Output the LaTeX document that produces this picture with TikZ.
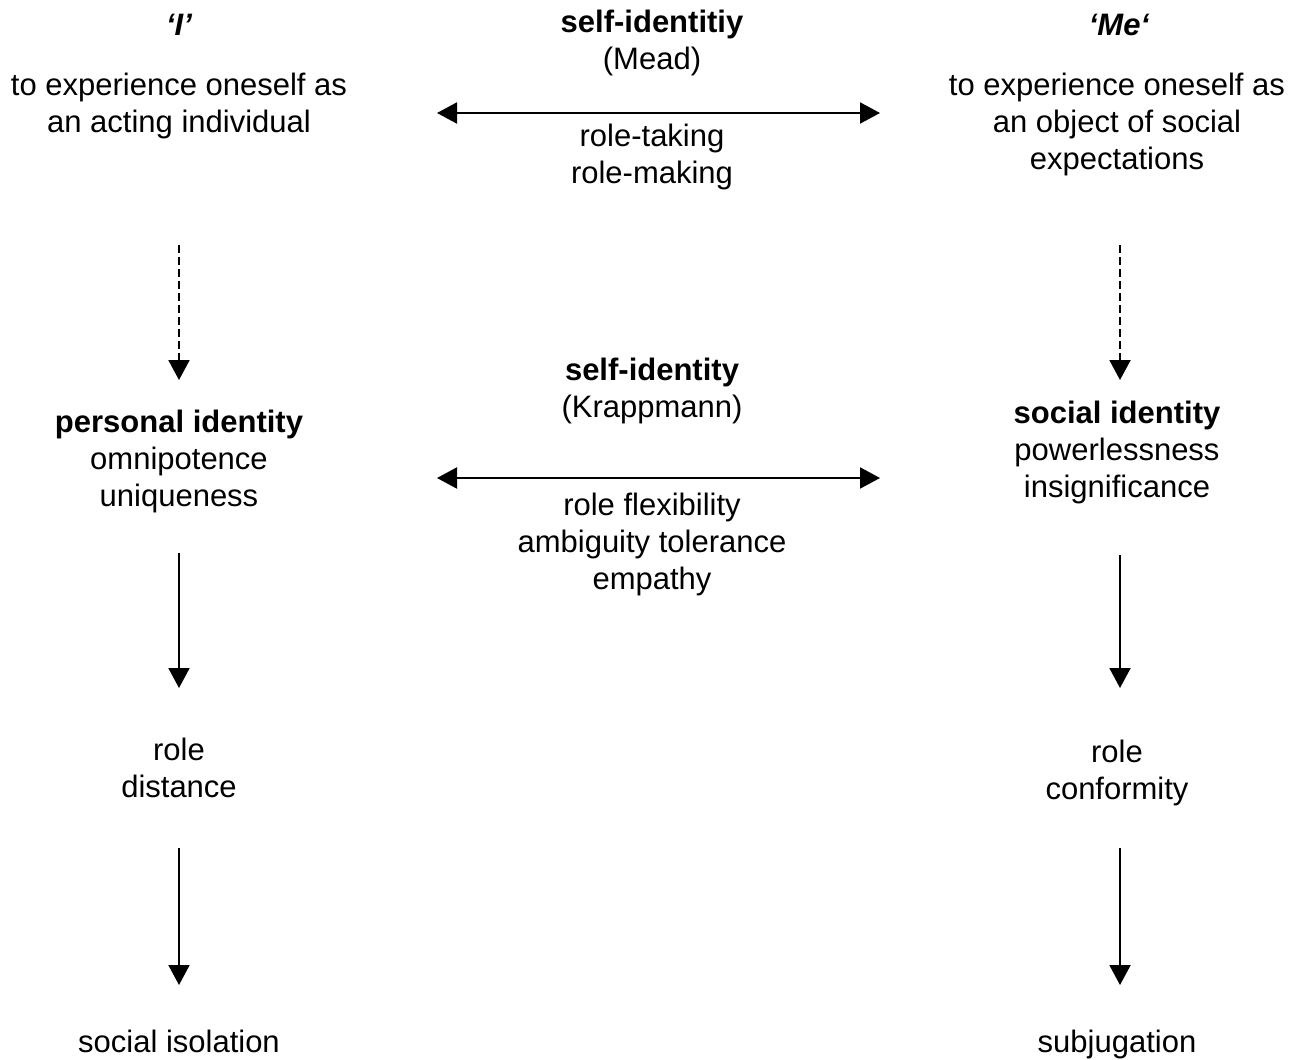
\documentclass[tikz,border=0pt]{standalone}
\usepackage{fontspec}
\setmainfont{Liberation Sans}
\usetikzlibrary{arrows.meta}
\begin{document}
\begin{tikzpicture}[x=1pt,y=-1pt,
  txt/.style={font=\fontsize{31}{37}\selectfont, align=center, inner sep=0pt, anchor=north},
  ttl/.style={txt, font=\fontsize{31}{37}\selectfont\bfseries\itshape},
  conn/.style={line width=2pt, -{Triangle[length=20pt,width=21pt]}},
  dconn/.style={conn, dash pattern=on 8pt off 4pt},
  biconn/.style={line width=2pt, {Triangle[length=20pt,width=21pt]}-{Triangle[length=20pt,width=21pt]}}]
\useasboundingbox (0,0) rectangle (1299,1060);

% left column
\node[ttl] (I) at (179,14) {‘I’};
\node[txt] (descI) at (179,73) {to experience oneself as\\an acting individual};
\node[txt] (persL) at (179,410) {\textbf{personal identity}\\omnipotence\\uniqueness};
\node[txt] (distL) at (179,738) {role\\distance};
\node[txt] (isoL) at (179,1030) {social isolation};

% right column
\node[ttl] (Me) at (1119,14) {‘Me‘};
\node[txt] (descMe) at (1117,73) {to experience oneself as\\an object of social\\expectations};
\node[txt] (socR) at (1117,401) {\textbf{social identity}\\powerlessness\\insignificance};
\node[txt] (confR) at (1117,740) {role\\conformity};
\node[txt] (subR) at (1117,1030) {subjugation};

% centre column
\node[txt] (mead) at (652,10) {\textbf{self-identitiy}\\(Mead)};
\node[txt] (taking) at (652,124) {role-taking\\role-making};
\node[txt] (krapp) at (652,358) {\textbf{self-identity}\\(Krappmann)};
\node[txt] (flex) at (652,493) {role flexibility\\ambiguity tolerance\\empathy};

% connector ends
\coordinate (h1l) at (437,113);
\coordinate (h1r) at (880,113);
\coordinate (h2l) at (437,478);
\coordinate (h2r) at (880,478);
\coordinate (l1s) at (179,245);
\coordinate (l1e) at (179,380);
\coordinate (l2s) at (179,553);
\coordinate (l2e) at (179,688);
\coordinate (l3s) at (179,848);
\coordinate (l3e) at (179,985);
\coordinate (r1s) at (1120,245);
\coordinate (r1e) at (1120,380);
\coordinate (r2s) at (1120,555);
\coordinate (r2e) at (1120,688);
\coordinate (r3s) at (1120,848);
\coordinate (r3e) at (1120,985);

\draw[biconn] (h1l) -- (h1r);
\draw[biconn] (h2l) -- (h2r);
\draw[dconn] (l1s) -- (l1e);
\draw[conn] (l2s) -- (l2e);
\draw[conn] (l3s) -- (l3e);
\draw[dconn] (r1s) -- (r1e);
\draw[conn] (r2s) -- (r2e);
\draw[conn] (r3s) -- (r3e);
\end{tikzpicture}
\end{document}
